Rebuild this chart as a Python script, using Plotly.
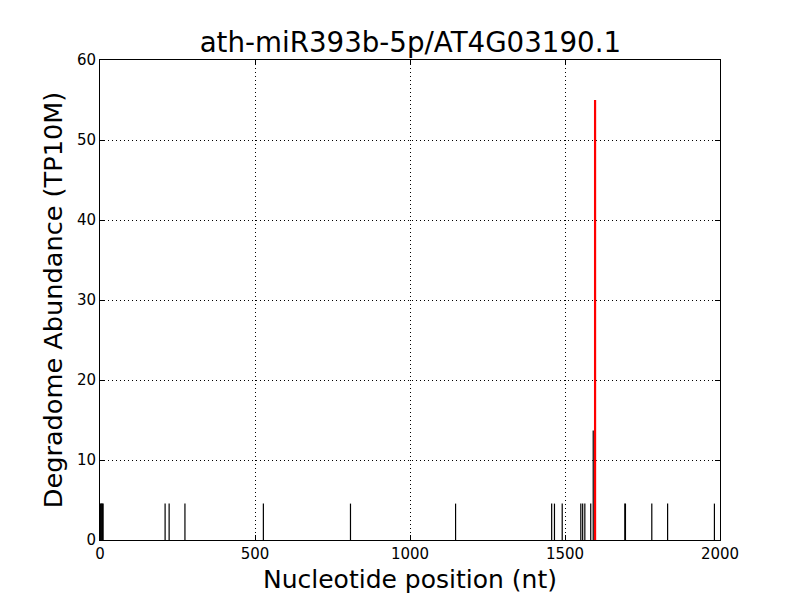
import plotly.graph_objs as go

# degradome tags (position, abundance)
positions = [2, 4, 6, 8, 10, 210, 223, 274, 527, 808, 1147, 1457, 1466, 1491,
             1551, 1557, 1564, 1583, 1591, 1597, 1693, 1695, 1780, 1831, 1982]
abundance = [4.55, 4.55, 4.55, 4.55, 4.55, 4.55, 4.55, 4.55, 4.55, 4.55, 4.55,
             4.55, 4.55, 4.55, 4.55, 4.55, 4.55, 4.55, 13.7, 55.0, 4.55, 4.55,
             4.55, 4.55, 4.55]

# predicted cleavage site
site_position = [1597]
site_abundance = [55.0]

x_ticks = [0, 500, 1000, 1500, 2000]
y_ticks = [0, 10, 20, 30, 40, 50, 60]

x_bars = []
y_bars = []
for pos, val in zip(positions, abundance):
    x_bars += [pos, pos, None]
    y_bars += [0, val, None]

x_site = []
y_site = []
for pos, val in zip(site_position, site_abundance):
    x_site += [pos, pos, None]
    y_site += [0, val, None]

data = []

trace_bars = go.Scatter(
    x=x_bars, y=y_bars, mode='lines',
    line=dict(color='black', width=1.2),
    hoverinfo='none', showlegend=False)
data.append(trace_bars)

trace_site = go.Scatter(
    x=x_site, y=y_site, mode='lines',
    line=dict(color='red', width=2.2),
    hoverinfo='none', showlegend=False)
data.append(trace_site)

axis_common = dict(
    showline=True, linecolor='black', linewidth=1, mirror='ticks',
    ticks='inside', ticklen=5, tickcolor='black',
    showgrid=True, gridcolor='black', griddash='1px,3px', gridwidth=1,
    zeroline=False, tickfont=dict(size=15, color='black'),
)

# the page adds an 8px body margin, so margins are shifted to compensate
layout = go.Layout(
    width=800, height=600,
    paper_bgcolor='white', plot_bgcolor='white',
    font=dict(family='DejaVu Sans', color='black'),
    title=dict(text='ath-miR393b-5p/AT4G03190.1', x=0.503, xanchor='center',
               yref='container', y=0.942, yanchor='middle', font=dict(size=27.7)),
    xaxis=dict(range=[0, 2000], tickvals=x_ticks,
               title=dict(text='Nucleotide position (nt)', font=dict(size=25), standoff=8),
               **axis_common),
    yaxis=dict(range=[0, 60], tickvals=y_ticks,
               title=dict(text='Degradome Abundance (TP10M)', font=dict(size=25.6), standoff=6),
               **axis_common),
    margin=dict(l=92, r=88, t=52, b=68),
)

fig = go.Figure(data=data, layout=layout)
fig.write_html("out.html")
